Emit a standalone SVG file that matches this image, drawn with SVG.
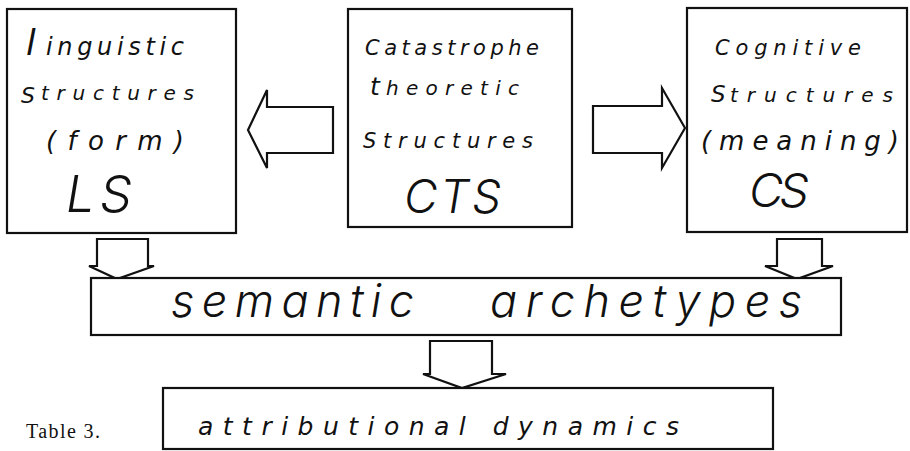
<svg xmlns="http://www.w3.org/2000/svg" width="910" height="451" viewBox="0 0 910 451">
  <style>
    .box { fill: #fff; stroke: #111; stroke-width: 2.2; }
    .arrow { fill: #fff; stroke: #111; stroke-width: 2.2; stroke-linejoin: miter; }
    .hand { font-family: "DejaVu Sans", Lato, sans-serif; font-style: oblique; font-weight: 400; fill: #111; font-variant-ligatures: none; }
    .big { font-family: Inter, "DejaVu Sans", sans-serif; font-weight: 300; font-style: oblique; }
    .caption { font-family: "Liberation Serif", "Times New Roman", serif; font-size: 20px; fill: #111; }
  </style>
  <rect width="910" height="451" fill="#fff"/>

  <!-- connectors: hollow block arrows -->
  <g id="connectors">
    <path class="arrow" d="M248,130 L267,90 L267,107 L333,107 L333,153 L267,153 L267,168 Z"/>
    <path class="arrow" d="M685,128 L662,88 L662,106 L593,106 L593,153 L662,153 L662,168 Z"/>
    <path class="arrow" d="M97,239 L148,239 L148,266 L154,266 L117,279 L89,266 L97,266 Z"/>
    <path class="arrow" d="M777,239 L822,239 L822,266 L833,266 L797,279 L765,266 L777,266 Z"/>
    <path class="arrow" d="M430,341 L492,341 L492,374 L506,374 L462,388 L423,374 L430,374 Z"/>
  </g>

  <!-- linguistic structures -->
  <g id="ls">
    <rect class="box" x="7" y="9" width="229" height="224"/>
    <text class="hand" x="26" y="55" font-size="35" font-weight="700">l</text>
    <text class="hand" x="46" y="55" font-size="24" textLength="138" lengthAdjust="spacing">inguistic</text>
    <text class="hand" x="21" y="103" font-size="22">S</text>
    <text class="hand" x="41" y="100" font-size="20" textLength="153" lengthAdjust="spacing">tructures</text>
    <text class="hand" x="46" y="150" font-size="26" textLength="138" lengthAdjust="spacing">(form)</text>
    <text class="hand big" x="66" y="212" font-size="51" textLength="66" lengthAdjust="spacing">LS</text>
  </g>

  <!-- catastrophe theoretic structures -->
  <g id="cts">
    <rect class="box" x="348" y="9" width="224" height="218"/>
    <text class="hand" x="365" y="55" font-size="21" textLength="174" lengthAdjust="spacing">Catastrophe</text>
    <text class="hand" x="370" y="95" font-size="25" font-weight="700">t</text>
    <text class="hand" x="386" y="95" font-size="20" textLength="133" lengthAdjust="spacing">heoretic</text>
    <text class="hand" x="363" y="148" font-size="21" textLength="170" lengthAdjust="spacing">Structures</text>
    <text class="hand big" x="404" y="213" font-size="46" textLength="97" lengthAdjust="spacing">CTS</text>
  </g>

  <!-- cognitive structures -->
  <g id="cs">
    <rect class="box" x="687" y="8" width="220" height="224"/>
    <text class="hand" x="715" y="55" font-size="21" textLength="146" lengthAdjust="spacing">Cognitive</text>
    <text class="hand" x="711" y="102" font-size="23">S</text>
    <text class="hand" x="730" y="102" font-size="20" textLength="163" lengthAdjust="spacing">tructures</text>
    <text class="hand" x="701" y="150" font-size="26" textLength="198" lengthAdjust="spacing">(meaning)</text>
    <text class="hand big" x="749" y="207" font-size="47" textLength="60" lengthAdjust="spacing">CS</text>
  </g>

  <!-- semantic archetypes -->
  <g id="archetypes">
    <rect class="box" x="91" y="278" width="750" height="57"/>
    <text class="hand big" x="171" y="317" font-size="45" textLength="243" lengthAdjust="spacing">semantic</text>
    <text class="hand big" x="490" y="317" font-size="45" textLength="312" lengthAdjust="spacing">archetypes</text>
  </g>

  <!-- attributional dynamics -->
  <g id="dynamics">
    <rect class="box" x="163" y="388" width="610" height="61"/>
    <text class="hand" x="198" y="435" font-size="25" textLength="481" lengthAdjust="spacing">attributional dynamics</text>
  </g>

  <!-- caption -->
  <g id="caption">
    <text class="caption" x="26" y="438" textLength="74" lengthAdjust="spacing">Table 3.</text>
  </g>
</svg>
